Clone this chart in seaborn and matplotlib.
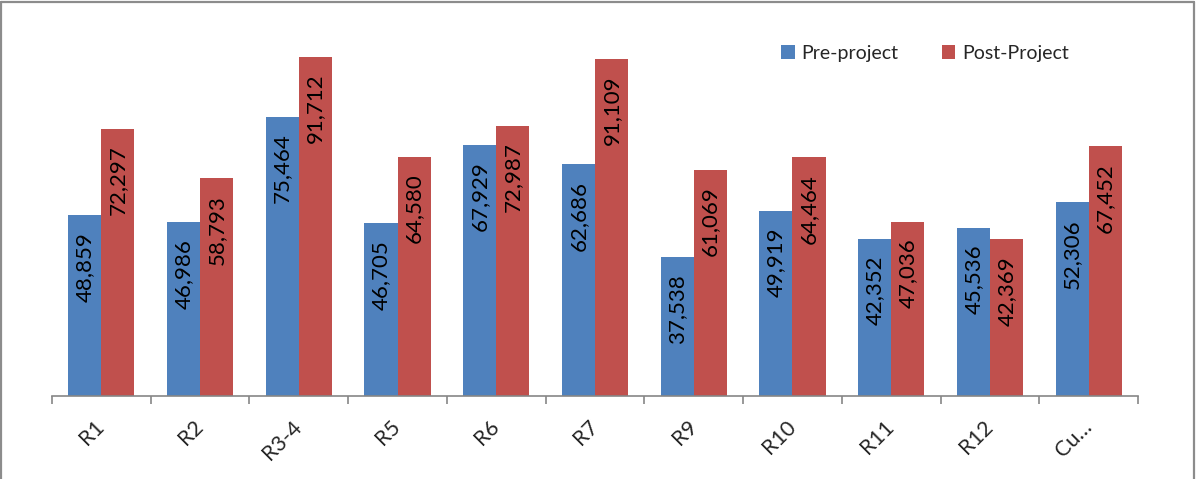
import matplotlib
matplotlib.use("Agg")
import matplotlib.pyplot as plt
from matplotlib.lines import Line2D
import seaborn as sns
import pandas as pd
import numpy as np

regions = ["R1", "R2", "R3-4", "R5", "R6", "R7", "R9", "R10", "R11", "R12", "Cu…"]
pre_project = [48859, 46986, 75464, 46705, 67929, 62686, 37538, 49919, 42352, 45536, 52306]
post_project = [72297, 58793, 91712, 64580, 72987, 91109, 61069, 64464, 47036, 42369, 67452]
series_names = ["Pre-project", "Post-Project"]
palette = ["#4F81BD", "#C0504D"]

df = pd.DataFrame({
    "region": regions * 2,
    "value": pre_project + post_project,
    "series": [series_names[0]] * len(regions) + [series_names[1]] * len(regions),
})

sns.set_style("white")
plt.rcParams["font.family"] = ["Lato", "DejaVu Sans"]

fig = plt.figure(figsize=(11.96, 4.79), dpi=100)
ax = fig.add_axes([52 / 1196, 83 / 479, (1138 - 52) / 1196, 370 / 479])

sns.barplot(data=df, x="region", y="value", hue="series", order=regions,
            hue_order=series_names, palette=palette, width=0.67, gap=0,
            saturation=1, ax=ax, legend=True, edgecolor="none")

ax.set_ylim(0, 100000)
ax.set_xlim(-0.5, len(regions) - 0.5)
ax.set_xlabel("")
ax.set_ylabel("")
ax.set_yticks([])
for side in ["left", "right", "top"]:
    ax.spines[side].set_visible(False)
ax.spines["bottom"].set_color("#868686")
ax.spines["bottom"].set_linewidth(1.2)

# category labels at centres, tick marks at the group boundaries
ax.set_xticks(np.arange(len(regions)))
ax.set_xticklabels(regions, rotation=45, ha="right", va="center",
                   rotation_mode="anchor", fontsize=15.5)
ax.tick_params(axis="x", which="major", length=0, pad=20)
ax.set_xticks(np.arange(-0.5, len(regions)), minor=True)
ax.tick_params(axis="x", which="minor", length=6, width=1.2, color="#868686",
               direction="out", bottom=True)

# value labels inside the top of each bar
for container in ax.containers:
    for patch in container:
        h = patch.get_height()
        ax.annotate(f"{h:,.0f}", (patch.get_x() + patch.get_width() / 2, h),
                    xytext=(0, -12), textcoords="offset points",
                    rotation=90, ha="center", va="top", fontsize=16,
                    color="black")

leg = ax.legend(loc="center", bbox_to_anchor=(925 / 1196, 1 - 53 / 479),
                bbox_transform=fig.transFigure, ncol=2, frameon=False,
                fontsize=14, handlelength=0.7, handleheight=0.7,
                handletextpad=0.35, columnspacing=2.2)

# outer chart frame
frame_kw = dict(color="#8C8C8C", linewidth=1.6, transform=fig.transFigure)
fig.add_artist(Line2D([1 / 1196, 1 / 1196], [0, 1 - 1.5 / 479], **frame_kw))
fig.add_artist(Line2D([1 / 1196, 1194 / 1196], [1 - 1.5 / 479, 1 - 1.5 / 479], **frame_kw))
fig.add_artist(Line2D([1194 / 1196, 1194 / 1196], [0, 1 - 1.5 / 479], **frame_kw))

fig.savefig("out.png", dpi=100, facecolor="white")
